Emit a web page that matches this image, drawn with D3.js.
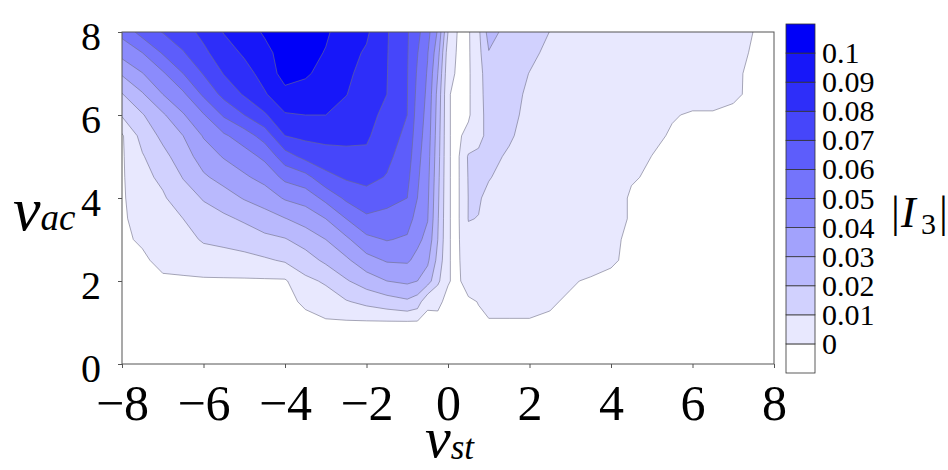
<!DOCTYPE html>
<html>
<head>
<meta charset="utf-8">
<script src="https://cdn.jsdelivr.net/npm/d3@7"></script>
<style>
  body { margin: 0; background: #fff; }
  svg text { font-family: "Liberation Serif", "Times New Roman", serif; fill: #000; }
</style>
</head>
<body>
<svg id="chart" width="948" height="470"></svg>
<script>
// |I3| over (v_st, v_ac)
const xNodes = [-8, -7.5, -7, -6.5, -6, -5.5, -5, -4.5, -4, -3.5, -3, -2.5, -2, -1.5, -1, -0.75, -0.5, -0.25, 0,
                0.25, 0.5, 0.75, 1, 1.5, 2, 2.5, 3, 3.5, 4, 4.5, 5, 5.5, 6, 6.5, 7, 7.5, 8];
const yNodes = [8, 7.5, 7, 6.5, 6, 5.5, 5, 4.5, 4, 3.5, 3, 2.5, 2, 1.5, 1, 0.5, 0];

// one row per yNodes entry (top row first), one value per xNodes entry
const i3Grid = [
  /* 8   */ [.053, .064, .0705, .076, .0826, .0905, .096, .101, .106, .107, .1015, .0945, .0915, .0808, .071, .0627, .0535, .0388, .01,
             0, 0, .008, .024, .016, .013, .0099, .006, .005, .005, .005, .005, .005, .0045, .0045, .004, .0009, 0],
  /* 7.5 */ [.0436, .05, .061, .0693, .0779, .0855, .0914, .0976, .1035, .1037, .0994, .0931, .0889, .0805, .0708, .0605, .0506, .034, .005,
             0, 0, .007, .0195, .015, .012, .008, .005, .005, .005, .005, .005, .005, .0045, .0045, .004, 0, 0],
  /* 7   */ [.0312, .0396, .0486, .06, .0707, .0805, .0863, .0936, .104, .1015, .0963, .0917, .087, .0803, .0705, .0588, .049, .03, .003,
             0, 0, .006, .016, .014, .0098, .007, .005, .005, .005, .005, .005, .005, .0045, .004, .0019, 0, 0],
  /* 6.5 */ [.0195, .029, .04, .0482, .0618, .0731, .0811, .089, .097, .0956, .0931, .0903, .0851, .08, .0703, .0574, .0478, .027, .0013,
             0, 0, .006, .015, .013, .0085, .005, .005, .005, .005, .005, .005, .005, .005, .005, .0018, 0, 0],
  /* 6   */ [.0109, .0192, .0285, .0391, .0492, .0614, .07, .0786, .0891, .09, .09, .0867, .0832, .0774, .07, .0559, .0466, .026, .0013,
             0, 0, .006, .014, .012, .008, .005, .005, .005, .005, .005, .005, .0017, 0, 0, 0, 0, 0],
  /* 5.5 */ [0, .0134, .0224, .03, .0408, .0485, .055, .0643, .08, .0823, .0831, .0825, .0813, .0749, .0675, .0544, .0454, .025, .0013,
             0, .003, .007, .013, .011, .007, .005, .005, .005, .005, .005, .0032, 0, 0, 0, 0, 0, 0],
  /* 5   */ [0, .0092, .017, .0252, .0347, .0408, .0457, .0522, .0657, .073, .0759, .0775, .0783, .0723, .065, .0529, .0441, .024, .0013,
             0, .011, .012, .012, .009, .006, .005, .005, .005, .005, .005, .0009, 0, 0, 0, 0, 0, 0],
  /* 4.5 */ [0, .0074, .012, .0205, .0285, .0336, .0385, .0433, .0525, .0567, .0671, .0713, .0728, .0694, .0625, .0515, .0429, .023, .0013,
             0, .0105, .012, .0105, .007, .006, .005, .005, .005, .005, .0017, 0, 0, 0, 0, 0, 0, 0],
  /* 4   */ [0, .0055, .0088, .0153, .0208, .0256, .0308, .0345, .0411, .044, .0529, .062, .0663, .0631, .06, .05, .0417, .022, .0013,
             0, .0102, .0108, .008, .006, .005, .005, .005, .005, .005, 0, 0, 0, 0, 0, 0, 0, 0],
  /* 3.5 */ [0, .0036, .0068, .01, .0157, .018, .0215, .0258, .0296, .034, .04, .05, .0581, .0569, .0544, .0462, .0405, .021, .0013,
             0, .0103, .0098, .007, .005, .005, .005, .005, .005, .005, 0, 0, 0, 0, 0, 0, 0, 0],
  /* 3   */ [0, .0018, .0047, .0068, .011, .0123, .0142, .0174, .0193, .0243, .03, .038, .0475, .0506, .0486, .0423, .037, .02, .0013,
             0, .008, .008, .006, .005, .005, .005, .005, .005, .002, 0, 0, 0, 0, 0, 0, 0, 0],
  /* 2.5 */ [0, 0, .0027, .0037, .0056, .0063, .0071, .0087, .0111, .0155, .0221, .0282, .0364, .041, .0414, .0371, .032, .017, .0013,
             0, .006, .006, .005, .005, .005, .005, .005, .005, .0016, 0, 0, 0, 0, 0, 0, 0, 0],
  /* 2   */ [0, 0, 0, 0, 0, 0, 0, 0, 0, .0079, .0112, .019, .025, .03, .032, .03, .0245, .012, .0013,
             0, .004, .005, .005, .005, .005, .005, .0018, 0, 0, 0, 0, 0, 0, 0, 0, 0, 0],
  /* 1.5 */ [0, 0, 0, 0, 0, 0, 0, 0, 0, .0016, .0056, .0092, .0125, .0155, .0183, .015, .0017, .0018, 0,
             0, 0, .0012, .005, .005, .005, .0018, 0, 0, 0, 0, 0, 0, 0, 0, 0, 0, 0],
  /* 1   */ Array(37).fill(0),
  /* 0.5 */ Array(37).fill(0),
  /* 0   */ Array(37).fill(0)
];

const levels = [0, 0.01, 0.02, 0.03, 0.04, 0.05, 0.06, 0.07, 0.08, 0.09, 0.1];
const levelLabels = ["0", "0.01", "0.02", "0.03", "0.04", "0.05", "0.06", "0.07", "0.08", "0.09", "0.1"];
const xTicks = [-8, -6, -4, -2, 0, 2, 4, 6, 8];
const yTicks = [0, 2, 4, 6, 8];

const plot = { left: 122, top: 32, right: 774, bottom: 364 };

const svg = d3.select("#chart");

const x = d3.scaleLinear().domain([-8, 8]).range([plot.left, plot.right]);
const y = d3.scaleLinear().domain([0, 8]).range([plot.bottom, plot.top]);

// white -> blue, one step per contour band
const blue = d3.interpolateRgb("#ffffff", "#0000f8");
const bandFill = i => blue((i + 1) / levels.length);

// contour bands; the "0" level is taken as the edge of the non-zero region
const nx = xNodes.length, ny = yNodes.length;
const contours = d3.contours()
    .size([nx, ny])
    .thresholds(levels.map(v => Math.max(v, 0.001)))
    (i3Grid.flat());

// grid index space -> data space (nodes sit at index + 0.5)
const gx = d3.scaleLinear().domain(xNodes.map((d, i) => i + 0.5)).range(xNodes);
const gy = d3.scaleLinear().domain(yNodes.map((d, i) => i + 0.5)).range(yNodes);

const toPath = geom => geom.coordinates.map(poly =>
    poly.map(ring => "M" + ring.map(p => x(gx(p[0])).toFixed(2) + "," + y(gy(p[1])).toFixed(2)).join("L") + "Z").join("")
).join("");

svg.append("clipPath").attr("id", "plotclip")
  .append("rect")
    .attr("x", plot.left).attr("y", plot.top)
    .attr("width", plot.right - plot.left).attr("height", plot.bottom - plot.top);

svg.append("g")
    .attr("clip-path", "url(#plotclip)")
  .selectAll("path")
  .data(contours)
  .enter().append("path")
    .attr("d", toPath)
    .attr("fill", (d, i) => bandFill(i))
    .attr("fill-rule", "evenodd")
    .attr("stroke", "#6e6e86")
    .attr("stroke-opacity", 0.75)
    .attr("stroke-width", 0.8)
    .attr("stroke-linejoin", "round");

// frame
svg.append("rect")
    .attr("x", plot.left).attr("y", plot.top)
    .attr("width", plot.right - plot.left).attr("height", plot.bottom - plot.top)
    .attr("fill", "none")
    .attr("stroke", "#555")
    .attr("stroke-width", 1);

// axes
const xAxis = svg.append("g")
    .attr("transform", `translate(0,${plot.bottom})`)
    .call(d3.axisBottom(x).tickValues(xTicks).tickSize(4).tickFormat(d3.format("d")));
xAxis.select(".domain").remove();
xAxis.selectAll("line").attr("stroke", "#555");
xAxis.selectAll("text")
    .attr("y", 56).attr("dy", null)
    .style("font-size", "50px");

const yAxis = svg.append("g")
    .attr("transform", `translate(${plot.left},0)`)
    .call(d3.axisLeft(y).tickValues(yTicks).tickSize(4).tickFormat(d3.format("d")));
yAxis.select(".domain").remove();
yAxis.selectAll("line").attr("stroke", "#555");
yAxis.selectAll("text")
    .attr("x", -21).attr("dy", null).attr("y", 17)
    .style("font-size", "40px");

// axis titles
const yTitle = svg.append("text").attr("x", 13).attr("y", 230);
yTitle.append("tspan").style("font-style", "italic").style("font-size", "62px").text("v");
yTitle.append("tspan").style("font-style", "italic").style("font-size", "37px").text("ac");

const xTitle = svg.append("text").attr("x", 425).attr("y", 457);
xTitle.append("tspan").style("font-style", "italic").style("font-size", "58px").text("v");
xTitle.append("tspan").style("font-style", "italic").style("font-size", "35px").attr("dy", 2).text("st");

// colour bar
const cb = { x: 786, y: 24, w: 29, h: 349 };
const bands = d3.range(levels.length + 1); // 0 = below zero, k = band above levels[k-1]
const cbScale = d3.scaleBand().domain(bands.slice().reverse()).range([cb.y, cb.y + cb.h]);

svg.append("g").selectAll("rect")
  .data(bands)
  .enter().append("rect")
    .attr("x", cb.x)
    .attr("y", d => cbScale(d))
    .attr("width", cb.w)
    .attr("height", cbScale.bandwidth())
    .attr("fill", d => d === 0 ? "#ffffff" : bandFill(d - 1))
    .attr("stroke", "#333")
    .attr("stroke-width", 0.8);

svg.append("g").selectAll("text")
  .data(levels)
  .enter().append("text")
    .attr("x", cb.x + 36)
    .attr("y", (d, i) => cbScale(i) + 10)
    .style("font-size", "30px")
    .text((d, i) => levelLabels[i]);

// |I3| legend title
const cbTitle = svg.append("text").attr("y", 227).style("font-size", "44px");
cbTitle.append("tspan").attr("x", 891).text("|");
cbTitle.append("tspan").attr("x", 901).style("font-style", "italic").text("I");
cbTitle.append("tspan").attr("x", 921).attr("dy", 7).style("font-size", "30px").text("3");
cbTitle.append("tspan").attr("x", 939).attr("dy", -7).text("|");
</script>
</body>
</html>
